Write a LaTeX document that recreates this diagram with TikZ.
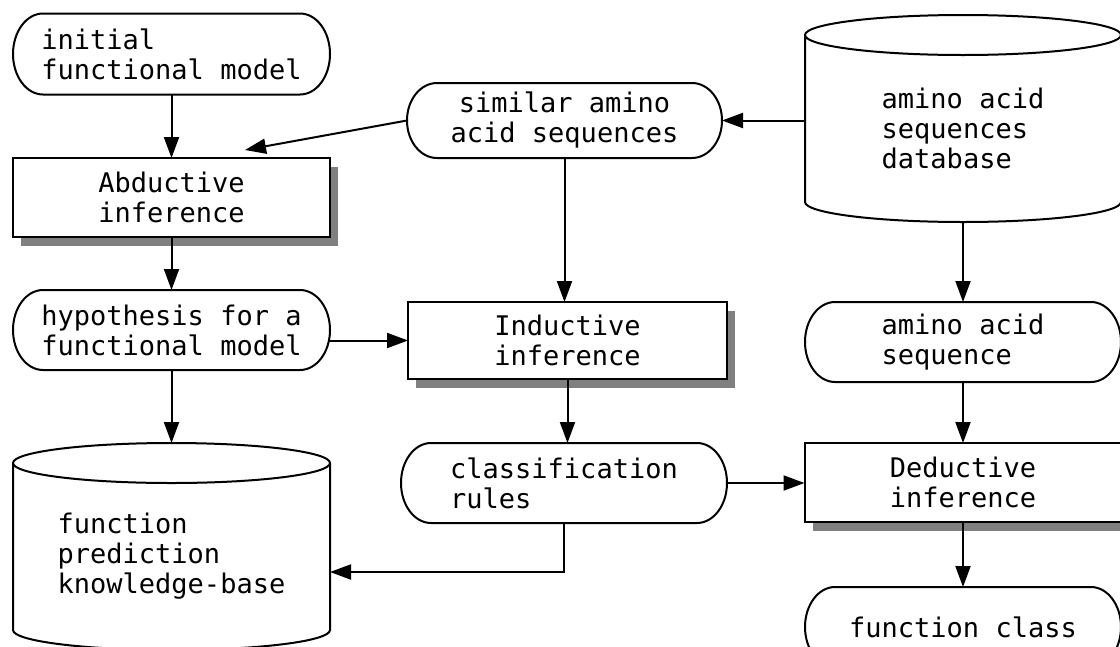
\documentclass[tikz,border=0pt]{standalone}
\usepackage{fontspec}
\setmainfont{DejaVu Sans Mono}
\usetikzlibrary{arrows.meta,calc,shadows}
\newcommand\myfs{\fontsize{27}{30}\selectfont}
\newcommand\myterm[1]{\draw[ln] let \p1=(#1.north west), \p2=(#1.south east), \n1={(\y1-\y2)/2} in
  (\x1+30pt,\y1) -- (\x2-30pt,\y1) arc[start angle=90,end angle=-90,x radius=30pt,y radius=\n1]
  -- (\x1+30pt,\y2) arc[start angle=270,end angle=90,x radius=30pt,y radius=\n1] -- cycle;}
\newcommand\mycyl[1]{\draw[ln] let \p1=(#1.north west), \p2=(#1.south east), \n1={(\x2-\x1)/2} in
  (\x1,\y1+20pt) -- (\x1,\y2) arc[start angle=180,end angle=360,x radius=\n1,y radius=20pt] -- (\x2,\y1+20pt)
  ($(#1.north)+(0,20)$) ellipse[x radius=\n1,y radius=20pt];}
\begin{document}
\begin{tikzpicture}[x=1pt,y=1pt,
  ln/.style={line width=2pt},
  arr/.style={ln,-{Triangle[length=21pt,width=15pt]}},
  txt/.style={inner sep=0pt,outer sep=0pt,font=\myfs},
  term/.style={txt,align=left},
  cyl/.style={txt,align=left},
  box/.style={txt,draw,fill=white,line width=2pt,align=center,
    drop shadow={shadow xshift=8pt,shadow yshift=-9pt,fill=black!50,opacity=1}}]
\useasboundingbox (0,0) rectangle (1120,-646);
\clip (0,0) rectangle (1120,-646);

% nodes
\node[term,minimum width=317pt,minimum height=81pt] (init) at (171.5,-54) {initial\\functional model};
\node[box,minimum width=317pt,minimum height=79pt] (abd) at (171.5,-197.5) {Abductive\\inference};
\node[term,align=center,minimum width=315pt,minimum height=75pt] (sim) at (564.5,-120.5) {similar amino\\acid sequences};
\node[cyl,minimum width=316pt,minimum height=147pt] (db) at (963,-128.5) {amino acid\\sequences\\database};
\node[term,minimum width=317pt,minimum height=80pt] (hyp) at (171.5,-330) {hypothesis for a\\functional model};
\node[box,minimum width=319pt,minimum height=77pt] (ind) at (567.5,-340.5) {Inductive\\inference};
\node[term,minimum width=316pt,minimum height=80pt] (aas) at (963,-342) {amino acid\\sequence};
\node[cyl,minimum width=317pt,minimum height=147pt] (kb) at (171.5,-556.5) {function\\prediction\\knowledge-base};
\node[term,minimum width=326pt,minimum height=80pt] (cls) at (564,-483) {classification\\rules};
\node[box,minimum width=317pt,minimum height=79pt] (ded) at (963,-482.5) {Deductive\\inference};
\node[term,minimum width=316pt,minimum height=80pt] (fc) at (963,-627) {function class};

% outlines
\myterm{init}
\myterm{sim}
\myterm{hyp}
\myterm{aas}
\myterm{cls}
\myterm{fc}
\mycyl{db}
\mycyl{kb}

% connectors
\draw[arr] (init.south) -- (abd.north);
\draw[arr] (sim.east -| db.west) -- (sim.east);
\draw[arr] (sim.west) -- ($(abd.north)+(73.5,8)$);
\draw[arr] (sim.south) -- (sim.south |- ind.north);
\draw[arr] (abd.south) -- (hyp.north);
\draw[arr] (hyp.east |- ind.west) -- (ind.west);
\draw[arr] (hyp.south) -- ($(kb.north)+(0,40)$);
\draw[arr] (ind.south) -- (ind.south |- cls.north);
\draw[arr] (cls.south) |- ($(kb.east)+(0,-15.5)$);
\draw[arr] (cls.east) -- (cls.east -| ded.west);
\draw[arr] ($(db.south)+(0,-20)$) -- (aas.north);
\draw[arr] (aas.south) -- (ded.north);
\draw[arr] (ded.south) -- (fc.north);
\end{tikzpicture}
\end{document}
